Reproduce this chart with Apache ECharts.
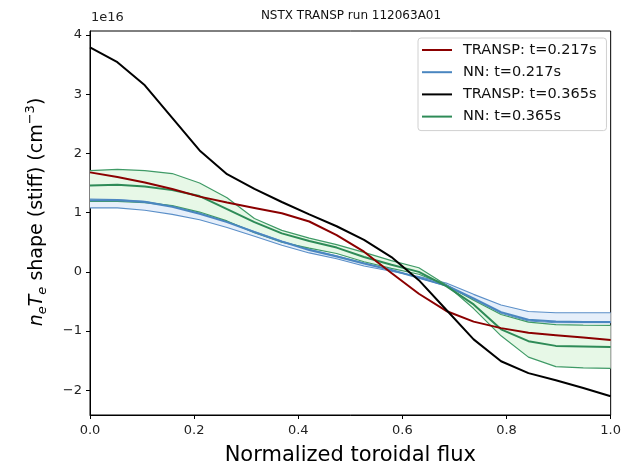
<!DOCTYPE html>
<html><head><meta charset="utf-8">
<script src="https://cdn.jsdelivr.net/npm/echarts@6/dist/echarts.min.js"></script>
<style>html,body{margin:0;padding:0;background:#fff}#c{width:624px;height:471px}</style>
</head><body><div id="c"></div>
<script>
// Normalized toroidal flux grid
const flux = [0, 0.0526, 0.1053, 0.1579, 0.2105, 0.2632, 0.3158, 0.3684, 0.4211, 0.4737, 0.5263, 0.5789, 0.6316, 0.6842, 0.7368, 0.7895, 0.8421, 0.8947, 0.9474, 1.0];
// TRANSP profiles (units of 1e16 cm^-3)
const transp217 = [1.68, 1.60, 1.51, 1.40, 1.27, 1.17, 1.08, 0.99, 0.85, 0.62, 0.34, -0.02, -0.37, -0.66, -0.84, -0.95, -1.03, -1.07, -1.11, -1.15];
const transp365 = [3.79, 3.54, 3.15, 2.60, 2.05, 1.65, 1.40, 1.18, 0.97, 0.77, 0.54, 0.25, -0.14, -0.64, -1.14, -1.51, -1.71, -1.83, -1.96, -2.10];
// NN t=0.217s: mean and band edges
const nn217 = [1.21, 1.21, 1.18, 1.10, 0.98, 0.84, 0.67, 0.51, 0.37, 0.26, 0.14, 0.03, -0.10, -0.23, -0.45, -0.68, -0.81, -0.84, -0.845, -0.845];
const nn217EdgeA = [1.23, 1.22, 1.19, 1.11, 0.99, 0.85, 0.68, 0.52, 0.38, 0.27, 0.15, 0.03, -0.10, -0.24, -0.46, -0.70, -0.83, -0.86, -0.86, -0.86];
const nn217EdgeB = [1.08, 1.08, 1.04, 0.97, 0.88, 0.75, 0.60, 0.45, 0.32, 0.22, 0.10, 0.01, -0.08, -0.19, -0.38, -0.56, -0.67, -0.69, -0.69, -0.69];
// NN t=0.365s: mean and band edges
const nn365 = [1.46, 1.47, 1.44, 1.38, 1.28, 1.06, 0.84, 0.65, 0.52, 0.41, 0.25, 0.12, 0.00, -0.24, -0.55, -0.97, -1.17, -1.25, -1.26, -1.27];
const nn365EdgeA = [1.71, 1.73, 1.71, 1.66, 1.50, 1.25, 0.90, 0.70, 0.57, 0.46, 0.33, 0.19, 0.07, -0.22, -0.62, -1.08, -1.44, -1.60, -1.62, -1.63];
const nn365EdgeB = [1.19, 1.19, 1.17, 1.12, 1.01, 0.86, 0.66, 0.50, 0.40, 0.31, 0.17, 0.06, -0.04, -0.22, -0.48, -0.72, -0.85, -0.89, -0.90, -0.905];
// Axis ticks
const xTicks = [0, 0.2, 0.4, 0.6, 0.8, 1.0];
const yTicks = [-2, -1, 0, 1, 2, 3, 4];
const names = ['TRANSP: t=0.217s', 'NN: t=0.217s', 'TRANSP: t=0.365s', 'NN: t=0.365s'];

const FONT = 'DejaVu Sans';
const pairs = ys => flux.map((x, i) => [x, ys[i]]);

function line(name, ys, color, width, z) {
  return { name, type: 'line', data: pairs(ys), symbol: 'none', showSymbol: false,
    lineStyle: { color, width }, itemStyle: { color }, z, silent: true, animation: false };
}
function band(name, a, b, fill) {
  return {
    name, type: 'custom', coordinateSystem: 'cartesian2d', data: [[flux[0], a[0]]],
    encode: { x: 0, y: 1 }, z: 1, silent: true, animation: false,
    renderItem: (params, api) => {
      const top = flux.map((x, i) => api.coord([x, a[i]]));
      const bot = flux.map((x, i) => api.coord([x, b[i]])).reverse();
      return { type: 'polygon', shape: { points: top.concat(bot) }, style: { fill: fill, stroke: null } };
    }
  };
}

const chart = echarts.init(document.getElementById('c'), null, { renderer: 'canvas' });
chart.setOption({
  animation: false,
  backgroundColor: '#fff',
  textStyle: { fontFamily: FONT },
  grid: { left: 90, right: 11, top: 31, bottom: 51, show: true, borderColor: '#000', borderWidth: 1, backgroundColor: 'transparent' },
  xAxis: {
    type: 'value', min: 0, max: 1, interval: 0.2,
    axisLine: { show: true, onZero: false, lineStyle: { color: '#000', width: 1 } },
    axisTick: { show: true, length: 4, lineStyle: { color: '#000' } },
    axisLabel: { formatter: v => v.toFixed(1), color: '#222', fontSize: 13, margin: 9, fontFamily: FONT },
    splitLine: { show: false },
    name: 'Normalized toroidal flux', nameLocation: 'middle', nameGap: 30,
    nameTextStyle: { fontSize: 21, color: '#000', fontFamily: FONT }
  },
  yAxis: {
    type: 'value', min: -2.417, max: 4.067,
    axisLine: { show: true, onZero: false, lineStyle: { color: '#000', width: 1 } },
    axisTick: { show: true, length: 4, customValues: yTicks, lineStyle: { color: '#000' } },
    axisLabel: { customValues: yTicks, formatter: v => String(v).replace('-', '\u2212'), color: '#222', fontSize: 13, margin: 8, fontFamily: FONT },
    splitLine: { show: false }
  },
  legend: {
    data: names, orient: 'vertical', left: 418, top: 38,
    icon: 'rect', itemWidth: 30, itemHeight: 2, itemGap: 6.2,
    padding: [4, 10, 6, 4],
    borderColor: '#d0d0d0', borderWidth: 1, borderRadius: 3,
    backgroundColor: 'rgba(255,255,255,0.85)',
    textStyle: { fontSize: 14.5, lineHeight: 16, color: '#111', fontFamily: FONT, padding: [0, 0, 0, 6] }
  },
  graphic: [
    { type: 'text', x: 351, y: 16, style: { text: 'NSTX TRANSP run 112063A01', font: '12px "DejaVu Sans"', fill: '#111', align: 'center', verticalAlign: 'middle' } },
    { type: 'text', x: 91, y: 18, style: { text: '1e16', font: '13px "DejaVu Sans"', fill: '#222', align: 'left', verticalAlign: 'middle' } },
    { type: 'text', x: 37, y: 212, rotation: Math.PI / 2,
      style: {
        text: '{i|n}{s|e}{i|T}{s|e}{r| shape (stiff) (cm}{p|\u22123}{r|)}',
        align: 'center', verticalAlign: 'middle', fill: '#000',
        rich: {
          i: { fontSize: 19, fontStyle: 'italic', fontFamily: FONT, lineHeight: 25, fill: '#000' },
          r: { fontSize: 19, fontFamily: FONT, lineHeight: 25, fill: '#000' },
          s: { fontSize: 13, fontStyle: 'italic', fontFamily: FONT, lineHeight: 25, verticalAlign: 'bottom', fill: '#000' },
          p: { fontSize: 13, fontFamily: FONT, lineHeight: 25, verticalAlign: 'top', fill: '#000' }
        }
      } }
  ],
  series: [
    band('b_band', nn217EdgeA, nn217EdgeB, '#e6effa'),
    band('g_band', nn365EdgeA, nn365EdgeB, '#e7f8e7'),
    line('b_edgeA', nn217EdgeA, '#5b8fc8', 1.1, 3),
    line('b_edgeB', nn217EdgeB, '#5b8fc8', 1.1, 3),
    line('g_edgeA', nn365EdgeA, '#3f9a66', 1.2, 3),
    line('g_edgeB', nn365EdgeB, '#3f9a66', 1.2, 3),
    line(names[1], nn217, '#4a86c0', 2, 4),
    line(names[3], nn365, '#2e8b57', 2, 4),
    line(names[0], transp217, '#8b0000', 2, 5),
    line(names[2], transp365, '#000000', 2, 6)
  ]
});
</script></body></html>
